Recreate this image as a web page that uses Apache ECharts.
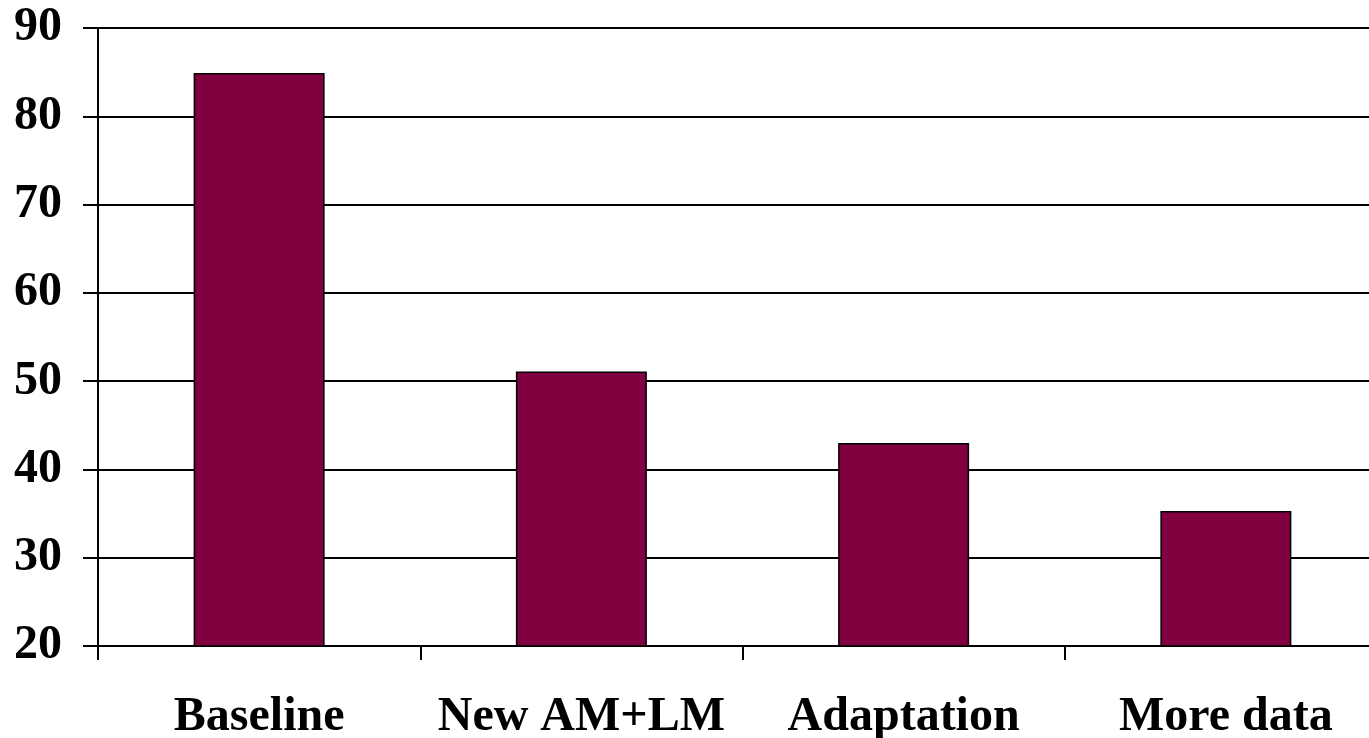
<!DOCTYPE html>
<html>
<head>
<meta charset="utf-8">
<script src="https://cdn.jsdelivr.net/npm/echarts@6/dist/echarts.min.js"></script>
<style>
  html, body { margin: 0; padding: 0; background: #ffffff; }
  #chart { width: 1369px; height: 738px; }
</style>
</head>
<body>
<div id="chart"></div>
<script>
// Bar chart data
const categories = ['Baseline', 'New AM+LM', 'Adaptation', 'More data'];
const values = [84.9, 51.1, 43.0, 35.3];
const yMin = 20;
const yMax = 90;
const yStep = 10;

const chart = echarts.init(document.getElementById('chart'));
const fontFamily = '"Liberation Serif", "Times New Roman", serif';

chart.setOption({
  animation: false,
  backgroundColor: '#ffffff',
  // plot area runs past the right edge of the canvas
  grid: {
    left: 98, top: 28, width: 1289, height: 618,
    containLabel: false, outerBoundsMode: 'none'
  },
  xAxis: {
    type: 'category',
    data: categories,
    axisLine: { show: true, lineStyle: { color: '#000', width: 2 } },
    axisTick: { show: true, length: 14, lineStyle: { color: '#000', width: 2 } },
    axisLabel: {
      interval: 0,
      color: '#000', fontFamily: fontFamily, fontWeight: 'bold', fontSize: 48, margin: 48
    },
    splitLine: { show: false }
  },
  yAxis: {
    type: 'value',
    min: yMin, max: yMax, interval: yStep,
    axisLine: { show: true, lineStyle: { color: '#000', width: 2 } },
    axisTick: { show: true, length: 15, lineStyle: { color: '#000', width: 2 } },
    axisLabel: {
      color: '#000', fontFamily: fontFamily, fontWeight: 'bold', fontSize: 48, margin: 36,
      padding: [8, 0, 0, 0]
    },
    splitLine: { show: true, lineStyle: { color: '#000', width: 2 } }
  },
  series: [{
    type: 'bar',
    data: values,
    barWidth: 131,
    itemStyle: { color: '#800040', borderColor: '#000', borderWidth: 1.5 }
  }]
});
</script>
</body>
</html>
